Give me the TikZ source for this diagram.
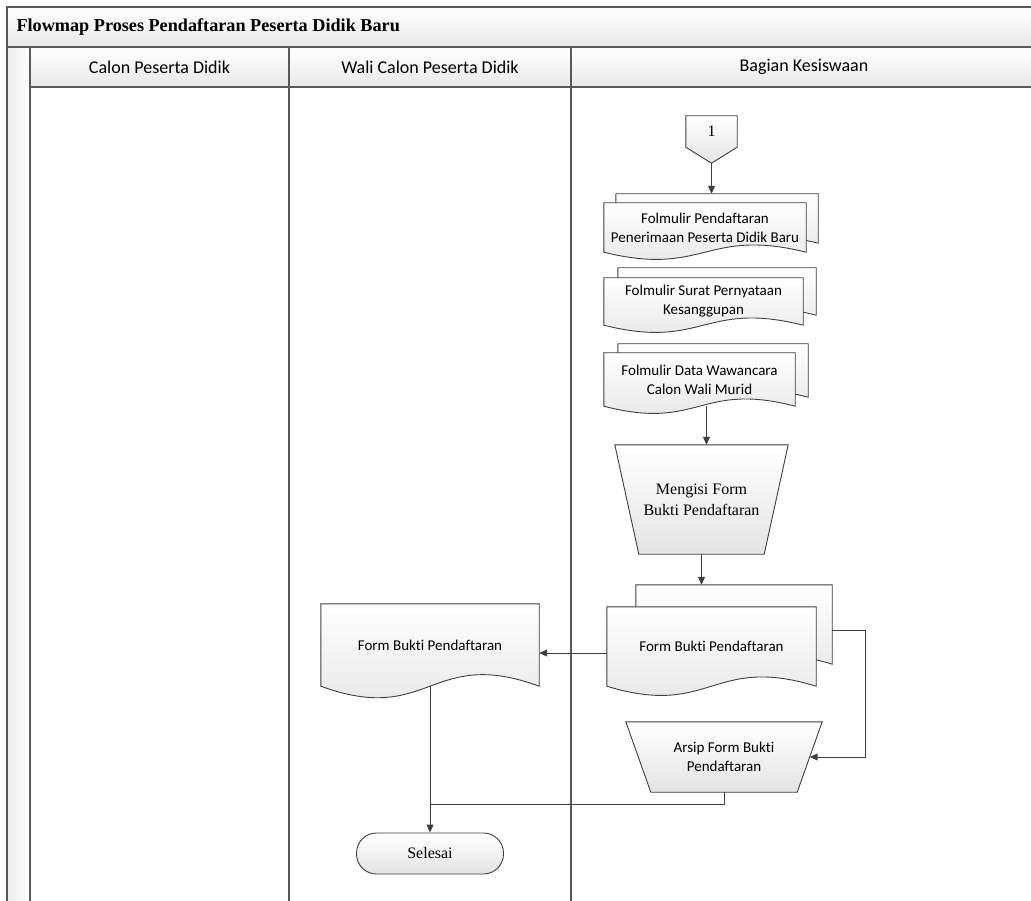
\documentclass[tikz,border=0pt]{standalone}
\usepackage{fontspec}
\setmainfont{Liberation Serif}
\newfontfamily\calibri[Ligatures=NoCommon]{Carlito}
\usetikzlibrary{calc,arrows.meta,backgrounds}

% document sheet round a node: node, left shift, right shift, wave
\newcommand{\docshape}[4]{%
  \draw[shapeline,shapefill] ($(#1.north west)+(#2)$) -- ($(#1.north east)+(#3)$)
    -- ($(#1.south east)+(#3)$)
    .. controls ($(#1.south)+(#3)+(0,-#4)$) and ($(#1.south)+(#2)+(0,#4)$)
    .. ($(#1.south west)+(#2)$) -- cycle;}
% manual operation round a node: node, inset
\newcommand{\manualop}[2]{%
  \draw[shapeline,shapefill] (#1.north west) -- (#1.north east)
    -- ($(#1.south east)+(-#2,0)$) -- ($(#1.south west)+(#2,0)$) -- cycle;}

\tikzset{
  frame/.style={draw=black!65, line width=1.5pt},
  band/.style={top color=white, bottom color=black!9},
  shapeline/.style={draw=black!75, line width=0.9pt},
  shapefill/.style={top color=white, bottom color=black!11},
  line/.style={draw=black!75, line width=1pt},
  flow/.style={line, -{Triangle[length=8pt,width=7pt]}},
  sans/.style={font=\calibri\fontsize{15}{19}\selectfont, align=center, inner sep=0pt},
  serif/.style={font=\fontsize{16}{21}\selectfont, align=center, inner sep=0pt},
  lane/.style={font=\calibri\fontsize{18}{20}\selectfont}
}

\begin{document}
\begin{tikzpicture}[x=1pt, y=-1pt]
\useasboundingbox (0,0) rectangle (1031,901);

% swimlanes
\path[band] (7,7) rectangle (1045,47);
\path[band] (30,47) rectangle (1045,87);
\path[left color=black!7, right color=white] (7,47) rectangle (30,910);
\draw[frame] (1045,7) -- (7,7) -- (7,910);
\draw[frame] (7,47) -- (1045,47);
\draw[frame] (30,87) -- (1045,87);
\draw[frame] (30,47) -- (30,910);
\draw[frame] (289,47) -- (289,910);
\draw[frame] (571,47) -- (571,910);

\node[anchor=west, font=\bfseries\fontsize{18.2}{20}\selectfont] (title) at (13,27) {Flowmap Proses Pendaftaran Peserta Didik Baru};
\node[lane] (lane1) at (159.5,67) {Calon Peserta Didik};
\node[lane] (lane2) at (430,67) {Wali Calon Peserta Didik};
\node[lane] (lane3) at (804,67) {Bagian Kesiswaan};

% flow
\node[serif, minimum width=51pt, minimum height=31pt] (conn) at (711.5,131.5) {1};
\coordinate (conn tip) at ($(conn.south)+(0,16)$);
\node[sans, minimum width=202pt, minimum height=49pt] (f1) at (705,227.5) {Folmulir Pendaftaran\\Penerimaan Peserta Didik Baru};
\node[sans, minimum width=199pt, minimum height=47pt] (f2) at (703.5,301.5) {Folmulir Surat Pernyataan\\Kesanggupan};
\node[sans, minimum width=191pt, minimum height=53pt] (f3) at (699.5,379.5) {Folmulir Data Wawancara\\Calon Wali Murid};
\node[serif, minimum width=173pt, minimum height=109pt] (mengisi) at (701.5,499.5) {Mengisi Form\\Bukti Pendaftaran};
\node[sans, minimum width=209pt, minimum height=79pt] (bukti) at (711.5,646.5) {Form Bukti Pendaftaran};
\node[sans, minimum width=218pt, minimum height=82pt] (wali) at (430,645) {Form Bukti Pendaftaran};
\node[sans, minimum width=196pt, minimum height=70pt] (arsip) at (724,757) {Arsip Form Bukti\\Pendaftaran};
\node[serif, draw=black!75, line width=0.9pt, top color=white, bottom color=black!11,
  rounded corners=20pt, minimum width=147pt, minimum height=41pt] (selesai) at (430,853.5) {Selesai};
\coordinate (turn) at (865,757);
\coordinate (join) at (430,804);

\begin{scope}[on background layer]
\draw[shapeline,shapefill] (conn.north west) -- (conn.north east) -- (conn.south east)
  -- (conn tip) -- (conn.south west) -- cycle;
\docshape{f1}{12,-9}{12,-9}{25}
\docshape{f1}{0,0}{0,0}{25}
\docshape{f2}{14,-10}{13,-10}{25}
\docshape{f2}{0,0}{0,0}{25}
\docshape{f3}{14,-9}{13,-9}{25}
\docshape{f3}{0,0}{0,0}{25}
\manualop{mengisi}{24}
\docshape{bukti}{29,-22}{16,-22}{32}
\docshape{bukti}{0,0}{0,0}{32}
\docshape{wali}{0,0}{0,0}{40}
\manualop{arsip}{25}
\end{scope}

\draw[flow, shorten >=9pt] (conn tip) -- (conn tip |- f1.north);
\draw[flow] ([xshift=7pt]f3.south) -- ([xshift=7pt]f3.south |- mengisi.north);
\draw[flow, shorten >=22pt] (mengisi.south) -- (mengisi.south |- bukti.north);
\draw[flow] ([yshift=-6.5pt]bukti.west) -- ([yshift=-6.5pt]bukti.west -| wali.east);
\draw[flow] ([xshift=16pt,yshift=16.5pt]bukti.east) -| (turn) |- ([xshift=-12.5pt]arsip.east);
\draw[line] (arsip.south) |- (join);
\draw[flow] (wali.south) -- (selesai.north);
\end{tikzpicture}
\end{document}
